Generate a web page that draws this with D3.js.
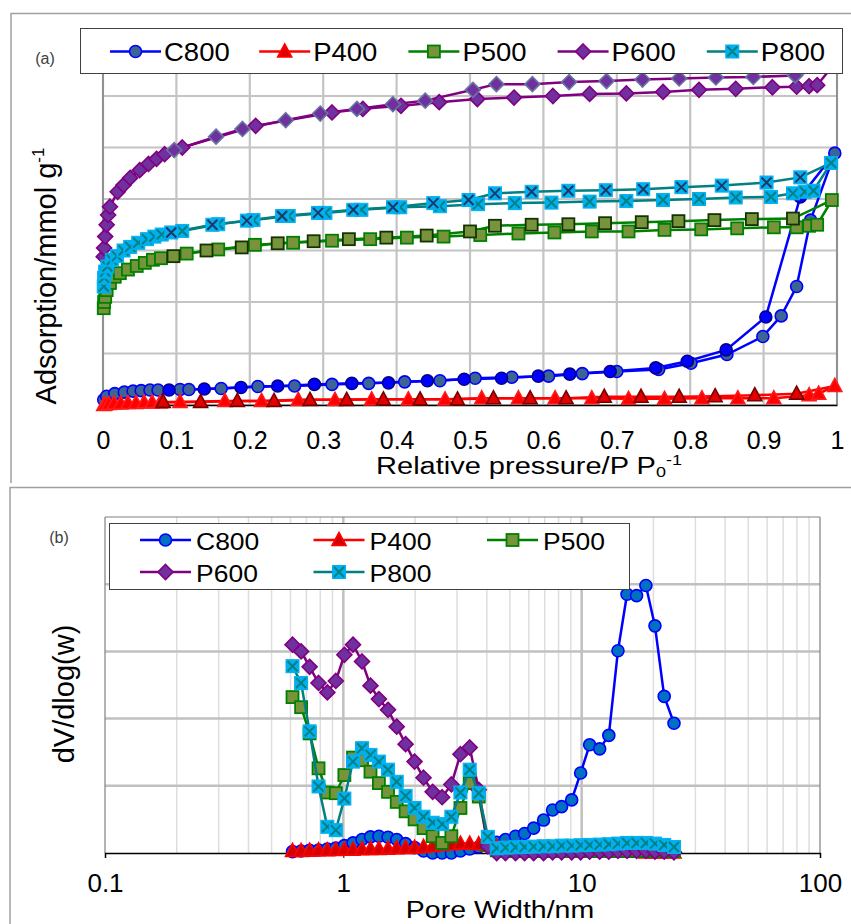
<!DOCTYPE html>
<html><head><meta charset="utf-8">
<script src="https://cdn.jsdelivr.net/npm/d3@7/dist/d3.min.js"></script>
<style>
html,body{margin:0;padding:0;background:#fff;}
svg{display:block;}
text{font-family:"Liberation Sans",Arial,Helvetica,sans-serif;fill:#000;}
</style></head><body>
<script>
// ================= DATA =================
const samples = ["C800","P400","P500","P600","P800"];
const pressureTicks = [0,0.1,0.2,0.3,0.4,0.5,0.6,0.7,0.8,0.9,1];
const pressureTickLabels = ["0","0.1","0.2","0.3","0.4","0.5","0.6","0.7","0.8","0.9","1"];
const poreTicks = [0.1,1,10,100];
const poreTickLabels = ["0.1","1","10","100"];

// Panel (a): isotherms [relative pressure, adsorption (grid units)]
const c800Ads = [[0.001,0.10],[0.005,0.17],[0.016,0.22],[0.029,0.25],[0.041,0.27],[0.052,0.28],[0.064,0.29],[0.075,0.29],[0.105,0.30],[0.117,0.30],[0.161,0.32],[0.211,0.36],[0.261,0.37],[0.312,0.40],[0.362,0.42],[0.411,0.45],[0.459,0.47],[0.507,0.52],[0.557,0.54],[0.607,0.56],[0.653,0.61],[0.700,0.65],[0.757,0.69],[0.801,0.81],[0.850,0.98],[0.899,1.33],[0.924,1.73],[0.945,2.30],[0.964,3.59],[0.997,4.89]];
const c800Des = [[0.997,4.89],[0.950,4.04],[0.903,1.71],[0.849,1.07],[0.796,0.85],[0.753,0.72],[0.691,0.65],[0.636,0.60],[0.593,0.56],[0.543,0.52],[0.492,0.50],[0.442,0.47],[0.389,0.43],[0.339,0.42],[0.288,0.40],[0.238,0.37],[0.188,0.34],[0.138,0.31],[0.090,0.29]];

const p400Ads = [[0.001,0.00],[0.003,0.01],[0.008,0.02],[0.015,0.03],[0.024,0.03],[0.034,0.04],[0.045,0.04],[0.056,0.05],[0.067,0.05],[0.078,0.05],[0.105,0.06],[0.166,0.08],[0.216,0.08],[0.266,0.10],[0.316,0.10],[0.366,0.11],[0.416,0.11],[0.466,0.11],[0.516,0.13],[0.566,0.13],[0.616,0.13],[0.666,0.13],[0.716,0.12],[0.765,0.12],[0.816,0.13],[0.865,0.13],[0.914,0.13],[0.962,0.19],[0.975,0.22],[0.997,0.37]];
const p400Des = [[0.997,0.37],[0.945,0.22],[0.888,0.19],[0.834,0.17],[0.785,0.16],[0.733,0.16],[0.683,0.16],[0.631,0.13],[0.582,0.13],[0.532,0.13],[0.483,0.11],[0.432,0.11],[0.382,0.11],[0.332,0.10],[0.282,0.10],[0.233,0.08],[0.183,0.08],[0.133,0.06],[0.082,0.06]];

const p500Ads = [[0.001,1.88],[0.0015,2.00],[0.003,2.10],[0.005,2.23],[0.0095,2.37],[0.016,2.49],[0.023,2.56],[0.034,2.63],[0.046,2.70],[0.057,2.76],[0.068,2.82],[0.079,2.85],[0.114,2.94],[0.157,3.02],[0.207,3.11],[0.259,3.15],[0.312,3.19],[0.364,3.22],[0.414,3.25],[0.464,3.27],[0.514,3.30],[0.566,3.33],[0.615,3.35],[0.666,3.37],[0.716,3.37],[0.765,3.40],[0.815,3.41],[0.864,3.43],[0.914,3.45],[0.945,3.45],[0.962,3.48],[0.973,3.50],[0.993,3.98]];
const p500Des = [[0.993,3.98],[0.940,3.62],[0.884,3.61],[0.833,3.59],[0.784,3.57],[0.734,3.55],[0.684,3.53],[0.634,3.51],[0.584,3.50],[0.534,3.48],[0.500,3.37],[0.441,3.29],[0.386,3.25],[0.335,3.22],[0.287,3.18],[0.238,3.14],[0.189,3.06],[0.141,3.00],[0.096,2.89]];

const p600Ads = [[0.001,2.88],[0.0015,3.05],[0.003,3.27],[0.005,3.50],[0.007,3.69],[0.0095,3.85],[0.020,4.14],[0.028,4.27],[0.037,4.41],[0.050,4.56],[0.062,4.68],[0.073,4.78],[0.084,4.87],[0.108,5.00],[0.208,5.42],[0.312,5.68],[0.354,5.75],[0.406,5.81],[0.458,5.88],[0.510,5.94],[0.560,5.97],[0.613,6.00],[0.663,6.04],[0.713,6.05],[0.763,6.08],[0.812,6.12],[0.862,6.14],[0.912,6.17],[0.945,6.18],[0.962,6.19],[0.973,6.21],[0.995,6.60]];
const p600Des = [[0.995,6.60],[0.943,6.40],[0.886,6.37],[0.835,6.36],[0.785,6.34],[0.735,6.32],[0.686,6.29],[0.635,6.27],[0.585,6.23],[0.536,6.23],[0.504,6.12],[0.439,5.91],[0.395,5.84],[0.346,5.75],[0.296,5.66],[0.249,5.53],[0.190,5.36],[0.154,5.21],[0.097,4.95]];

const p800Ads = [[0.001,2.30],[0.0015,2.47],[0.003,2.59],[0.006,2.69],[0.012,2.82],[0.019,2.89],[0.028,3.00],[0.037,3.07],[0.048,3.15],[0.060,3.22],[0.070,3.27],[0.080,3.31],[0.108,3.38],[0.157,3.51],[0.205,3.59],[0.253,3.67],[0.303,3.73],[0.352,3.79],[0.405,3.84],[0.459,3.86],[0.511,3.90],[0.561,3.92],[0.611,3.93],[0.663,3.95],[0.713,3.96],[0.763,3.98],[0.812,4.00],[0.862,4.03],[0.910,4.04],[0.940,4.11],[0.956,4.14],[0.968,4.16],[0.992,4.70]];
const p800Des = [[0.992,4.70],[0.950,4.42],[0.904,4.32],[0.843,4.26],[0.788,4.23],[0.736,4.19],[0.685,4.17],[0.634,4.16],[0.584,4.14],[0.534,4.11],[0.498,3.98],[0.450,3.92],[0.395,3.84],[0.341,3.79],[0.293,3.73],[0.244,3.67],[0.196,3.58],[0.149,3.50],[0.093,3.35]];

// Panel (b): pore size distribution, pore width (nm) grid shared by all series
const poreWidth = [0.612,0.665,0.722,0.787,0.857,0.93,1.01,1.098,1.198,1.30,1.41,1.54,1.675,1.825,1.99,2.17,2.37,2.598,2.84,3.10,3.39,3.70,4.04,4.40,4.79,5.28,5.76,6.29,6.92,7.55,8.24,9.08,9.90,10.8,11.9,13.0,14.2,15.5,17.0,18.6,20.3,22.2,24.4];
const psdC800 = [0.02,0.03,0.04,0.045,0.06,0.075,0.11,0.15,0.20,0.24,0.25,0.235,0.20,0.14,0.08,0.03,0.0,0.0,0.0,0.03,0.06,0.09,0.12,0.16,0.20,0.25,0.29,0.37,0.49,0.64,0.69,0.79,1.19,1.61,1.55,1.75,3.01,3.85,3.83,3.98,3.38,2.33,1.93];
const psdP400 = [0.03,0.03,0.035,0.04,0.04,0.045,0.05,0.05,0.055,0.06,0.06,0.065,0.07,0.075,0.08,0.09,0.10,0.12,0.13,0.14,0.14,0.13,0.11,0.09,0.07,0.06,0.05,0.04,0.04,0.03,0.03,0.03,0.03,0.03,0.02,0.02,0.02,0.02,0.02,0.01,0.01,0.01,0.01];
const psdP500 = [2.32,2.17,1.78,1.26,0.90,0.89,1.16,1.42,1.38,1.21,1.04,0.91,0.76,0.62,0.50,0.37,0.25,0.15,0.25,0.67,1.04,0.84,0.12,0.04,0.03,0.03,0.03,0.03,0.03,0.03,0.03,0.03,0.03,0.03,0.03,0.03,0.03,0.03,0.03,0.03,0.03,0.03,0.03];
const psdP600 = [3.10,3.00,2.77,2.53,2.39,2.56,2.95,3.10,2.85,2.49,2.29,2.13,1.88,1.62,1.36,1.12,0.91,0.83,1.02,1.47,1.57,0.94,0.10,0.0,0.0,0.0,0.0,0.0,0.0,0.01,0.01,0.01,0.01,0.02,0.02,0.02,0.03,0.03,0.03,0.03,0.02,0.02,0.01];
const psdP800 = [2.78,2.53,1.81,0.99,0.39,0.34,0.81,1.36,1.56,1.46,1.36,1.24,1.06,0.85,0.67,0.54,0.45,0.43,0.54,0.90,1.24,0.89,0.24,0.07,0.08,0.085,0.09,0.095,0.10,0.10,0.11,0.11,0.115,0.12,0.125,0.13,0.14,0.15,0.15,0.15,0.14,0.12,0.09];

// ================= STYLES =================
const isoData = {C800:[c800Ads,c800Des],P400:[p400Ads,p400Des],P500:[p500Ads,p500Des],P600:[p600Ads,p600Des],P800:[p800Ads,p800Des]};
const psdData = {C800:psdC800,P400:psdP400,P500:psdP500,P600:psdP600,P800:psdP800};
const sty = {
  C800:{line:"#0000ff",shape:"circle",  a:{fill:"#3d6593",stroke:"#0000ff"}, d:{fill:"#0000ff",stroke:"#00008b"}, b:{fill:"#0070c0",stroke:"#0000ff"}, lg:{fill:"#3d6593",stroke:"#0000ff"}},
  P400:{line:"#ff0000",shape:"triangle",a:{fill:"#ff0000",stroke:"#ff1a1a"}, d:{fill:"#e00000",stroke:"#7a0000"}, b:{fill:"#d40000",stroke:"#ff0000"}, lg:{fill:"#e00000",stroke:"#ff0000"}},
  P500:{line:"#008000",shape:"square",  a:{fill:"#77933c",stroke:"#008000"}, d:{fill:"#77933c",stroke:"#143300"}, b:{fill:"#77933c",stroke:"#008000"}, lg:{fill:"#77933c",stroke:"#008000"}},
  P600:{line:"#800080",shape:"diamond", a:{fill:"#7030a0",stroke:"#800080"}, d:{fill:"#7030a0",stroke:"#66779f"}, b:{fill:"#7030a0",stroke:"#800080"}, lg:{fill:"#7030a0",stroke:"#800080"}},
  P800:{line:"#008080",shape:"xsquare", a:{fill:"#00b0f0",stroke:"#008080"}, d:{fill:"#00b0f0",stroke:"#1f3864"}, b:{fill:"#00b0f0",stroke:"#008080"}, lg:{fill:"#00b0f0",stroke:"#008080"}}
};

function marker(g, shape, x, y, st){
  const m = g.append("g").attr("transform",`translate(${x},${y})`);
  if(shape==="circle"){
    m.append("circle").attr("r",6).attr("fill",st.fill).attr("stroke",st.stroke).attr("stroke-width",1.6);
  } else if(shape==="triangle"){
    m.append("path").attr("d","M0,-7.5L7,5.5L-7,5.5Z").attr("fill",st.fill).attr("stroke",st.stroke).attr("stroke-width",1.6);
  } else if(shape==="square"){
    m.append("rect").attr("x",-6).attr("y",-6).attr("width",12).attr("height",12).attr("fill",st.fill).attr("stroke",st.stroke).attr("stroke-width",1.8);
  } else if(shape==="diamond"){
    m.append("path").attr("d","M0,-7.5L7.5,0L0,7.5L-7.5,0Z").attr("fill",st.fill).attr("stroke",st.stroke).attr("stroke-width",1.6);
  } else if(shape==="xsquare"){
    m.append("rect").attr("x",-6.5).attr("y",-6.5).attr("width",13).attr("height",13).attr("fill",st.fill).attr("stroke",st.fill).attr("stroke-width",1);
    m.append("path").attr("d","M-5,-5L5,5M5,-5L-5,5").attr("stroke",st.stroke).attr("stroke-width",2).attr("fill","none");
  }
}
// horizontal text with a vertical squeeze (matches the reference's wide lettering)
function sText(parent, x, y, size, sy, anchor){
  return parent.append("g").attr("transform",`translate(${x},${y}) scale(1,${sy})`)
    .append("text").attr("x",0).attr("y",0).attr("font-size",size).attr("text-anchor",anchor||"start");
}

const W=851,H=924;
const svg=d3.select("body").append("svg").attr("width",W).attr("height",H);
svg.append("rect").attr("width",W).attr("height",H).attr("fill","#fff");

// outer frames
svg.append("path").attr("d","M11,483V13.5H851").attr("fill","none").attr("stroke","#a0a0a0").attr("stroke-width",1.5);
svg.append("path").attr("d","M10,924V487.5H851").attr("fill","none").attr("stroke","#a0a0a0").attr("stroke-width",1.5);

// ================= PANEL A =================
const xA=d3.scaleLinear().domain([0,1]).range([103,837]);
const yA=d3.scaleLinear().domain([0,7]).range([405,44.5]);
const gA=svg.append("g");
const gridA=gA.append("g");
pressureTicks.forEach(t=>{
  gridA.append("line").attr("x1",xA(t)).attr("x2",xA(t)).attr("y1",yA(0)).attr("y2",yA(7)).attr("stroke","#c4c4c4").attr("stroke-width",2.2);
});
yA.ticks(7).forEach(t=>{
  gridA.append("line").attr("x1",xA(0)).attr("x2",xA(1)).attr("y1",yA(t)).attr("y2",yA(t)).attr("stroke","#c4c4c4").attr("stroke-width",2.2);
});
gA.append("line").attr("x1",xA(0)).attr("x2",xA(0)).attr("y1",yA(0)).attr("y2",yA(7)).attr("stroke","#808080").attr("stroke-width",1.5);
gA.append("line").attr("x1",xA(1)).attr("x2",xA(1)).attr("y1",yA(0)).attr("y2",yA(7)).attr("stroke","#808080").attr("stroke-width",1.5);

const axA=gA.append("g").attr("transform",`translate(0,${yA(0)})`)
  .call(d3.axisBottom(xA).tickValues(pressureTicks).tickSize(0).tickFormat((d,i)=>pressureTickLabels[i]));
axA.select(".domain").attr("stroke","#000").attr("stroke-width",1.5);
axA.selectAll("text").attr("y",44).attr("dy",0).attr("font-size",25).attr("font-family","Liberation Sans, Arial, sans-serif").attr("fill","#000");

const lineA=d3.line().x(d=>xA(d[0])).y(d=>yA(d[1]));
const seriesA=gA.append("g");
samples.forEach(s=>{
  const [ads,des]=isoData[s]; const st=sty[s];
  const g=seriesA.append("g");
  g.append("path").attr("d",lineA(ads)).attr("fill","none").attr("stroke",st.line).attr("stroke-width",2.5);
  g.append("path").attr("d",lineA(des)).attr("fill","none").attr("stroke",st.line).attr("stroke-width",2.5);
  ads.forEach(d=>marker(g,st.shape,xA(d[0]),yA(d[1]),st.a));
  des.slice(1).forEach(d=>marker(g,st.shape,xA(d[0]),yA(d[1]),st.d));
});

// legend A
const lgA=svg.append("g");
lgA.append("rect").attr("x",80.5).attr("y",28.5).attr("width",762).attr("height",45).attr("fill","#fff").attr("stroke","#404040").attr("stroke-width",1);
samples.forEach((s,i)=>{
  const x0=110+i*149.2, y0=51.5, st=sty[s];
  lgA.append("line").attr("x1",x0).attr("x2",x0+51).attr("y1",y0).attr("y2",y0).attr("stroke",st.line).attr("stroke-width",2.5);
  marker(lgA,st.shape,x0+25.5,y0,st.lg);
  sText(lgA,x0+54,y0+9.5,27.5,0.93).text(s);
});
svg.append("text").attr("x",45).attr("y",64).attr("text-anchor","middle").attr("font-size",16).style("fill","#404040").text("(a)");

// axis titles A
const tA=sText(svg,529,474,29,0.84,"middle");
tA.append("tspan").text("Relative pressure/P P");
tA.append("tspan").attr("font-size",18).attr("dy",4).text("0");
tA.append("tspan").attr("font-size",18).attr("dy",-15).text("-1");
const yTA=svg.append("text").attr("transform","translate(56,276) rotate(-90)").attr("text-anchor","middle").attr("font-size",29);
yTA.append("tspan").text("Adsorption/mmol g");
yTA.append("tspan").attr("font-size",17).attr("dy",-12).text("-1");

// ================= PANEL B =================
const xB=d3.scaleLog().domain([0.1,100]).range([105,820]);
const yB=d3.scaleLinear().domain([0,5]).range([853,517]);
const gB=svg.append("g");
const gridB=gB.append("g");
xB.ticks().forEach(t=>{
  const major=poreTicks.includes(+t.toPrecision(3));
  if(t<=0.1||t>=100) return;
  gridB.append("line").attr("x1",xB(t)).attr("x2",xB(t)).attr("y1",yB(0)).attr("y2",yB(5))
    .attr("stroke",major?"#c0c0c0":"#dedede").attr("stroke-width",major?2.5:1.5);
});
yB.ticks(5).forEach(t=>{
  if(t===0) return;
  gridB.append("line").attr("x1",xB(0.1)).attr("x2",xB(100)).attr("y1",yB(t)).attr("y2",yB(t)).attr("stroke",t===5?"#808080":"#c0c0c0").attr("stroke-width",t===5?1.2:2.5);
});
gB.append("line").attr("x1",xB(0.1)).attr("x2",xB(0.1)).attr("y1",yB(0)).attr("y2",yB(5)).attr("stroke","#808080").attr("stroke-width",1.2);
gB.append("line").attr("x1",xB(100)).attr("x2",xB(100)).attr("y1",yB(0)).attr("y2",yB(5)).attr("stroke","#808080").attr("stroke-width",1.2);
const axB=gB.append("g").attr("transform",`translate(0,${yB(0)})`)
  .call(d3.axisBottom(xB).tickValues(poreTicks).tickSize(5).tickFormat((d,i)=>poreTickLabels[i]));
axB.select(".domain").attr("stroke","#000").attr("stroke-width",1.5);
axB.selectAll(".tick line").attr("stroke","#000");
axB.selectAll("text").attr("y",39).attr("dy",0).attr("font-size",26).attr("font-family","Liberation Sans, Arial, sans-serif").attr("fill","#000");

const lineB=d3.line().x(d=>xB(d[0])).y(d=>yB(d[1]));
samples.forEach(s=>{
  const pts=poreWidth.map((w,i)=>[w,psdData[s][i]]); const st=sty[s];
  const g=gB.append("g");
  g.append("path").attr("d",lineB(pts)).attr("fill","none").attr("stroke",st.line).attr("stroke-width",2.5);
  pts.forEach(d=>marker(g,st.shape,xB(d[0]),yB(d[1]),st.b));
});

// legend B
const lgB=svg.append("g");
lgB.append("rect").attr("x",109.5).attr("y",523.5).attr("width",520).attr("height",66).attr("fill","#fff").attr("stroke","#404040").attr("stroke-width",1);
samples.forEach((s,i)=>{
  const col=i%3,row=Math.floor(i/3);
  const x0=140+col*173.5, y0=540+row*32, st=sty[s];
  lgB.append("line").attr("x1",x0).attr("x2",x0+51).attr("y1",y0).attr("y2",y0).attr("stroke",st.line).attr("stroke-width",2.5);
  marker(lgB,st.shape,x0+25.5,y0,st.b);
  sText(lgB,x0+56,y0+9.5,26.5,0.93).text(s);
});
svg.append("text").attr("x",59).attr("y",543).attr("text-anchor","middle").attr("font-size",16).style("fill","#404040").text("(b)");

sText(svg,500,918,28.5,0.84,"middle").text("Pore Width/nm");
svg.append("text").attr("transform","translate(74,694) rotate(-90)").attr("text-anchor","middle").attr("font-size",29).text("dV/dlog(w)");
</script>
</body></html>
